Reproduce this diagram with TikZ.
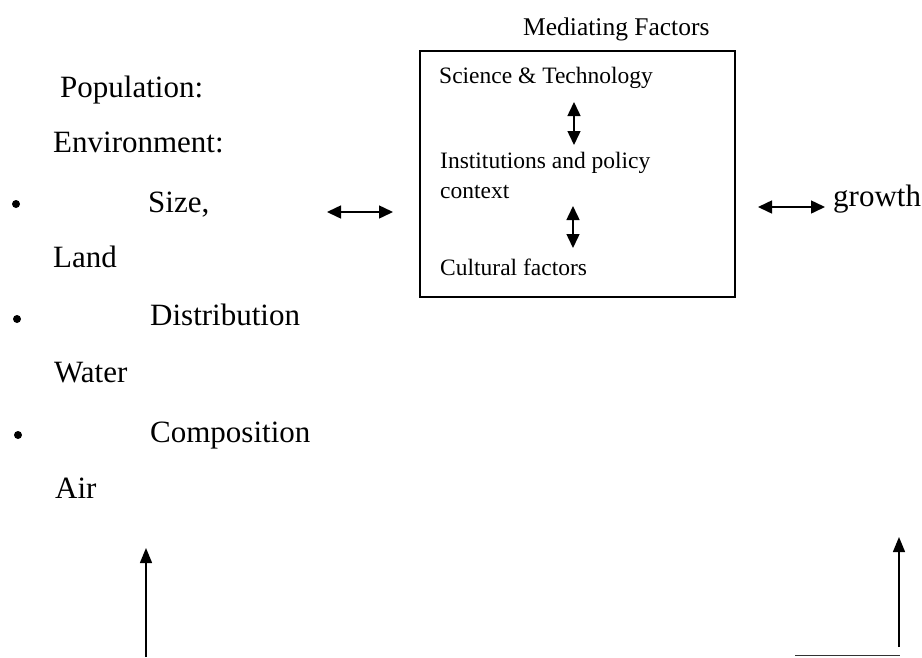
\documentclass[tikz,border=0pt]{standalone}
\usepackage{fontspec}
\setmainfont{Liberation Serif}
\usetikzlibrary{arrows.meta}
\tikzset{
  lefttxt/.style={anchor=base west, inner sep=0pt, font=\fontsize{31}{31}\selectfont},
  boxtxt/.style={anchor=base west, inner sep=0pt, font=\fontsize{23.5}{23.5}\selectfont},
  titletxt/.style={anchor=base west, inner sep=0pt, font=\fontsize{25.5}{25.5}\selectfont},
  dblarrow/.style={line width=1.5pt, {Triangle[length=14pt,width=13pt]}-{Triangle[length=14pt,width=13pt]}},
  uparrow/.style={line width=1.4pt, -{Triangle[length=15pt,width=12pt]}},
  bulletdot/.style={circle, fill=black, inner sep=0pt, minimum size=8pt},
  mbox/.style={draw, line width=1.4pt}
}
\begin{document}
\begin{tikzpicture}[x=1pt,y=-1pt]
\useasboundingbox (0,0) rectangle (922,657);
% Left column
\node[lefttxt] (pop) at (60,97) {Population:};
\node[lefttxt] (env) at (53,152) {Environment:};
\node[bulletdot] (b1) at (16,204) {};
\node[lefttxt] (size) at (148,212) {Size,};
\node[lefttxt] (land) at (53,267) {Land};
\node[bulletdot] (b2) at (17,319) {};
\node[lefttxt] (dist) at (150,325) {Distribution};
\node[lefttxt] (water) at (54,382) {Water};
\node[bulletdot] (b3) at (18,435) {};
\node[lefttxt] (comp) at (150,442) {Composition};
\node[lefttxt] (air) at (55,498) {Air};
% Mediating factors box
\node[titletxt] (title) at (523,35) {Mediating Factors};
\node[mbox, minimum width=315pt, minimum height=246pt, inner sep=0pt] (box) at (577.5,174) {};
\node[boxtxt] (sci) at (439,83) {Science \& Technology};
\node[boxtxt] (inst) at (440,168) {Institutions and policy};
\node[boxtxt] (ctx) at (440,198) {context};
\node[boxtxt] (cult) at (440,275) {Cultural factors};
\coordinate (a1t) at (574,102);
\coordinate (a1b) at (574,145);
\coordinate (a2t) at (573,206);
\coordinate (a2b) at (573,248);
\draw[dblarrow] (a1t) -- (a1b);
\draw[dblarrow] (a2t) -- (a2b);
% growth
\node[lefttxt] (growth) at (833,206) {growth};
% horizontal double arrows
\coordinate (la) at (327,212);
\coordinate (lb) at (393,212);
\draw[dblarrow] (la) -- (lb);
\coordinate (ra) at (758,207);
\coordinate (rb) at (825,207);
\draw[dblarrow] (ra) -- (rb);
% bottom up arrows
\coordinate (u1b) at (146,657);
\coordinate (u1t) at (146,548);
\draw[uparrow] (u1b) -- (u1t);
\coordinate (u2b) at (899,647);
\coordinate (u2t) at (899,537);
\draw[uparrow] (u2b) -- (u2t);
% bottom line fragment
\coordinate (bl1) at (795,655.5);
\coordinate (bl2) at (900,655.5);
\draw[line width=1.2pt, black!80] (bl1) -- (bl2);
\end{tikzpicture}
\end{document}
